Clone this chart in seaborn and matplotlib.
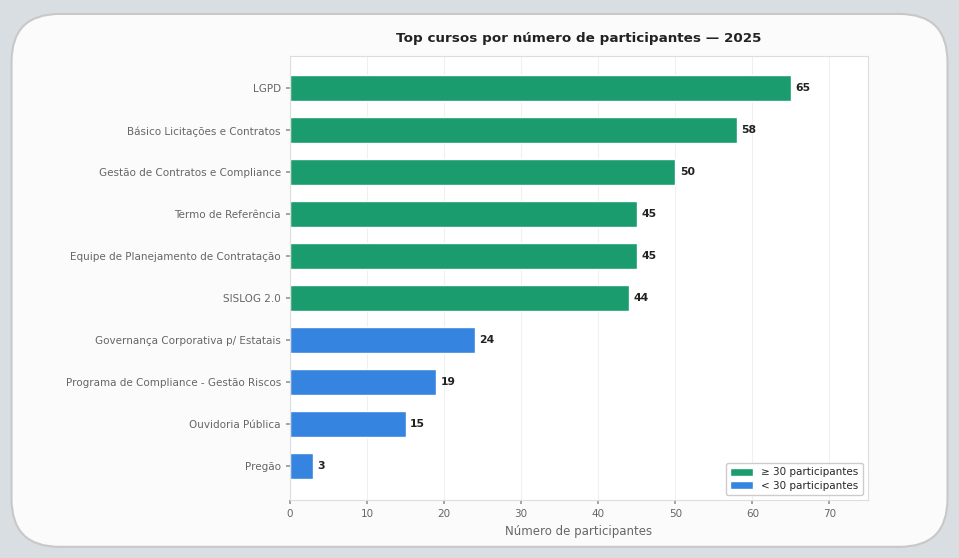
import matplotlib
matplotlib.use("Agg")
import matplotlib.pyplot as plt
from matplotlib.patches import FancyBboxPatch, Patch
import seaborn as sns
import pandas as pd

cursos = ["LGPD", "Básico Licitações e Contratos", "Gestão de Contratos e Compliance",
          "Termo de Referência", "Equipe de Planejamento de Contratação", "SISLOG 2.0",
          "Governança Corporativa p/ Estatais", "Programa de Compliance - Gestão Riscos",
          "Ouvidoria Pública", "Pregão"]
participantes = [65, 58, 50, 45, 45, 44, 24, 19, 15, 3]
limite = 30
cor_alta = "#1a9c6e"
cor_baixa = "#3584e0"
rotulo_alta = "≥ 30 participantes"
rotulo_baixa = "< 30 participantes"

df = pd.DataFrame({"curso": cursos, "n": participantes})
df["grupo"] = [rotulo_alta if v >= limite else rotulo_baixa for v in participantes]

sns.set_theme(style="whitegrid")
plt.rcParams['font.family'] = ['DejaVu Sans']

fig = plt.figure(figsize=(9.59, 5.58), dpi=100)
fig.patch.set_facecolor("#d9dee3")
card = FancyBboxPatch((0.012, 0.02), 0.976, 0.955, boxstyle="round,pad=0,rounding_size=0.05",
                      transform=fig.transFigure, facecolor="#fbfbfb", edgecolor="#c8c8c8",
                      linewidth=1.5, mutation_aspect=959/558, zorder=-5)
fig.patches.append(card)

ax = fig.add_axes([0.3024, 0.104, 0.6026, 0.7956])
ax.set_zorder(2)
ax.set_facecolor("white")
sns.barplot(data=df, x="n", y="curso", hue="grupo", dodge=False, width=0.62,
            palette={rotulo_alta: cor_alta, rotulo_baixa: cor_baixa},
            hue_order=[rotulo_alta, rotulo_baixa], ax=ax, legend=False, saturation=1)

for i, v in enumerate(participantes):
    ax.text(v + 0.6, i, str(v), va="center", ha="left", fontsize=7.8, fontweight="bold", color="#222222")

ax.set_xlim(0, 75)
ax.set_ylim(9.8, -0.77)
ax.set_xticks(range(0, 71, 10))
ax.set_xlabel("Número de participantes", fontsize=8.5, color="#666666")
ax.set_ylabel("")
ax.set_title("Top cursos por número de participantes — 2025", fontsize=9.7, fontweight="bold",
             color="#222222", pad=10)
ax.tick_params(axis="both", labelsize=7.5, labelcolor="#666666", length=3, color="#999999")
ax.tick_params(axis="y", left=True)
ax.tick_params(axis="x", bottom=True)
ax.grid(axis="x", color="#f0f0f0", linewidth=0.8)
ax.grid(axis="y", visible=False)
for s in ax.spines.values():
    s.set_color("#dddddd")
    s.set_linewidth(0.8)

handles = [Patch(facecolor=cor_alta, label=rotulo_alta), Patch(facecolor=cor_baixa, label=rotulo_baixa)]
ax.legend(handles=handles, loc="lower right", fontsize=7.5, frameon=True, framealpha=1,
          edgecolor="#cccccc", handlelength=2.2, handleheight=0.9, borderpad=0.4, labelspacing=0.3)

fig.savefig("out.png", dpi=100)
